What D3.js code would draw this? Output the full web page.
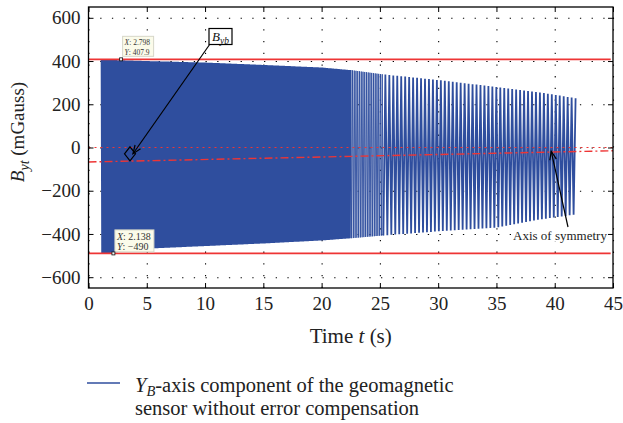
<!DOCTYPE html>
<html>
<head>
<meta charset="utf-8">
<script src="https://cdn.jsdelivr.net/npm/d3@7"></script>
<style>
  body { margin: 0; background: #fff; }
  svg, svg text { font-family: "Liberation Serif", "DejaVu Serif", serif; }
  .grid line { stroke: #000; stroke-width: 1.1; stroke-dasharray: 1.3 10.4; }
  .grid path { display: none; }
  .axis path { display: none; }
  .axis line { stroke: #000; stroke-width: 1; }
  .axis text { font-size: 19px; fill: #222; font-family: "Liberation Serif", serif; }
</style>
</head>
<body>
<svg id="chart" width="623" height="423"></svg>
<script>
// ---------- data ----------
var xTicks = [0, 5, 10, 15, 20, 25, 30, 35, 40, 45];
var yTicks = [-600, -400, -200, 0, 200, 400, 600];

// envelope of the oscillating signal (time s, max / min mGauss)
var envTime  = [1.1,  2,    5,    10,   15,   20,   22.5, 25,   30,   35,   38.7, 41.8];
var envUpper = [405,  405,  400,  393,  382,  370,  358,  340,  312,  280,  255,  228];
var envLower = [-490, -487, -468, -456, -444, -430, -420, -408, -388, -370, -333, -310];

// oscillation period seen in each stretch of the record (s)
var bandFrom   = [1.1, 22.5, 25.3];
var bandTo     = [22.5, 25.3, 41.8];
var bandPeriod = [0.1, 0.15, 0.34];

var limitLevels = [407.9, -490];      // red solid lines
var zeroLevel = 0;                    // red dotted line
var symmetryT = [0, 45];              // red dash-dot axis of symmetry
var symmetryV = [-67, -15];

var tipX = [2.798, 2.138];
var tipY = [407.9, -490];
var byPoint = [3.56, -29];            // diamond marked B_yb
var symPoint = [39.7, -18];           // arrow tip on the axis of symmetry

// ---------- layout ----------
var svg = d3.select("#chart");
var plotL = 88.5, plotR = 613, plotT = 7, plotB = 288;
var blue = "#2f4e9e", red = "#ee3535";
var bandStroke = [1.3, 0.9, 1.8];

var x = d3.scaleLinear().domain([0, 45]).range([plotL, plotR]);
var y = d3.scaleLinear().domain([-650, 650]).range([plotB, plotT]);

// grid
svg.append("g").attr("class", "grid")
    .attr("transform", "translate(0," + plotB + ")")
    .call(d3.axisBottom(x).tickValues(xTicks).tickSize(-(plotB - plotT)).tickFormat(""));
svg.append("g").attr("class", "grid")
    .attr("transform", "translate(" + plotL + ",0)")
    .call(d3.axisLeft(y).tickValues(yTicks).tickSize(-(plotR - plotL)).tickFormat(""));

// signal
svg.append("clipPath").attr("id", "plotClip")
    .append("rect").attr("x", plotL).attr("y", plotT)
    .attr("width", plotR - plotL).attr("height", plotB - plotT);

var upperAt = d3.scaleLinear().domain(envTime).range(envUpper).clamp(true);
var lowerAt = d3.scaleLinear().domain(envTime).range(envLower).clamp(true);

var line = d3.line()
    .x(function (d) { return x(d[0]); })
    .y(function (d) { return y(d[1]); });

var k = 0;
bandFrom.forEach(function (from, i) {
    var half = bandPeriod[i] / 2, pts = [];
    for (var t = from; t <= bandTo[i] + 1e-9; t += half) {
        pts.push([t, k % 2 ? lowerAt(t) : upperAt(t)]);
        k++;
    }
    k--; // next band starts from the last turning point
    svg.append("path")
        .datum(pts)
        .attr("clip-path", "url(#plotClip)")
        .attr("d", line)
        .attr("fill", "none")
        .attr("stroke", blue)
        .attr("stroke-width", bandStroke[i]);
});

// red reference lines
svg.selectAll(".limit")
    .data(limitLevels)
    .enter().append("line")
    .attr("class", "limit")
    .attr("x1", x(0)).attr("x2", x(44.8))
    .attr("y1", function (d) { return y(d); })
    .attr("y2", function (d) { return y(d); })
    .attr("stroke", red).attr("stroke-width", 1.6);

svg.append("line")
    .attr("x1", x(0)).attr("x2", x(45))
    .attr("y1", y(zeroLevel)).attr("y2", y(zeroLevel))
    .attr("stroke", red).attr("stroke-width", 1.2)
    .attr("stroke-dasharray", "2 4");

svg.append("line")
    .attr("x1", x(symmetryT[0])).attr("x2", x(symmetryT[1]))
    .attr("y1", y(symmetryV[0])).attr("y2", y(symmetryV[1]))
    .attr("stroke", red).attr("stroke-width", 1.4)
    .attr("stroke-dasharray", "8 3 2 3");

// axes with inward ticks on all four sides
svg.append("g").attr("class", "axis")
    .attr("transform", "translate(0," + plotB + ")")
    .call(d3.axisBottom(x).tickValues(xTicks).tickSize(-5).tickPadding(9));
svg.append("g").attr("class", "axis")
    .attr("transform", "translate(0," + plotT + ")")
    .call(d3.axisTop(x).tickValues(xTicks).tickSize(-5).tickFormat(""));
svg.append("g").attr("class", "axis")
    .attr("transform", "translate(" + plotL + ",0)")
    .call(d3.axisLeft(y).tickValues(yTicks).tickSize(-5).tickPadding(8));
svg.append("g").attr("class", "axis")
    .attr("transform", "translate(" + plotR + ",0)")
    .call(d3.axisRight(y).tickValues(yTicks).tickSize(-5).tickFormat(""));

svg.append("rect")
    .attr("x", plotL).attr("y", plotT)
    .attr("width", plotR - plotL).attr("height", plotB - plotT)
    .attr("fill", "none").attr("stroke", "#000").attr("stroke-width", 1.3);

// axis titles
var xt = svg.append("text")
    .attr("x", (plotL + plotR) / 2).attr("y", 343)
    .attr("text-anchor", "middle")
    .style("font-size", "21px").attr("fill", "#222");
xt.append("tspan").text("Time ");
xt.append("tspan").style("font-style", "italic").text("t");
xt.append("tspan").text(" (s)");

var yt = svg.append("text")
    .attr("transform", "translate(24,132) rotate(-90)")
    .attr("text-anchor", "middle")
    .style("font-size", "19px").attr("fill", "#222");
yt.append("tspan").style("font-style", "italic").text("B");
yt.append("tspan").style("font-style", "italic").style("font-size", "14px")
    .attr("dy", 5).text("yt");
yt.append("tspan").attr("dy", -5).text(" (mGauss)");

// data tips
var tipBox = [
    { w: 31, h: 20, dx: 1.5, dy: -23, fs: 7.5, lh: 9.3 },
    { w: 39, h: 22, dx: 1.5, dy: -23.5, fs: 10, lh: 10 }
];
tipX.forEach(function (tx, i) {
    var px = x(tx), py = y(tipY[i]), b = tipBox[i];
    var g = svg.append("g");
    g.append("rect")
        .attr("x", px + b.dx).attr("y", py + b.dy)
        .attr("width", b.w).attr("height", b.h)
        .attr("fill", "#fbfbea").attr("stroke", "#d6d6c8").attr("stroke-width", 1);
    var t1 = g.append("text").attr("x", px + b.dx + 2).attr("y", py + b.dy + b.h / 2 - 1)
        .style("font-size", b.fs + "px").attr("fill", "#333");
    t1.append("tspan").style("font-style", "italic").text("X");
    t1.append("tspan").text(": " + tx);
    var t2 = g.append("text").attr("x", px + b.dx + 2).attr("y", py + b.dy + b.h / 2 - 1 + b.lh)
        .style("font-size", b.fs + "px").attr("fill", "#333");
    t2.append("tspan").style("font-style", "italic").text("Y");
    t2.append("tspan").text(": " + String(tipY[i]).replace("-", "\u2212"));
    g.append("rect")
        .attr("x", px - 1.5).attr("y", py - 1.5)
        .attr("width", 3).attr("height", 3)
        .attr("fill", "#f4f4f4").attr("stroke", "#111").attr("stroke-width", 0.8);
});

// arrows
function arrow(x1, y1, x2, y2) {
    var a = Math.atan2(y2 - y1, x2 - x1), L = 9, s = 0.38;
    svg.append("line")
        .attr("x1", x1).attr("y1", y1).attr("x2", x2).attr("y2", y2)
        .attr("stroke", "#000").attr("stroke-width", 1.2);
    svg.append("path")
        .attr("d", "M" + (x2 - L * Math.cos(a - s)) + "," + (y2 - L * Math.sin(a - s)) +
            "L" + x2 + "," + y2 +
            "L" + (x2 - L * Math.cos(a + s)) + "," + (y2 - L * Math.sin(a + s)))
        .attr("fill", "none").attr("stroke", "#000").attr("stroke-width", 1.2);
}

// B_yb label
var bx = x(byPoint[0]), by = y(byPoint[1]);
svg.append("path")
    .attr("d", "M" + (bx - 5.5) + "," + by + "L" + bx + "," + (by - 7) +
        "L" + (bx + 5.5) + "," + by + "L" + bx + "," + (by + 7) + "Z")
    .attr("fill", "none").attr("stroke", "#000").attr("stroke-width", 1.2);
arrow(210, 44, bx + 3, by);
svg.append("rect")
    .attr("x", 209).attr("y", 28.5).attr("width", 23).attr("height", 16)
    .attr("fill", "#fff").attr("stroke", "#000").attr("stroke-width", 1.2);
var bl = svg.append("text").attr("x", 212).attr("y", 40.5)
    .style("font-size", "13px").style("font-style", "italic").attr("fill", "#111");
bl.append("tspan").text("B");
bl.append("tspan").attr("dy", 3).style("font-size", "9.5px").text("yb");

// axis of symmetry label
svg.append("rect")
    .attr("x", 512).attr("y", 227).attr("width", 95).attr("height", 14)
    .attr("fill", "#fff");
arrow(568, 227, x(symPoint[0]), y(symPoint[1]));
svg.append("text")
    .attr("x", 513).attr("y", 239.5)
    .style("font-size", "13px").attr("fill", "#222")
    .text("Axis of symmetry");

// legend
svg.append("line")
    .attr("x1", 87).attr("x2", 120).attr("y1", 383).attr("y2", 383)
    .attr("stroke", blue).attr("stroke-width", 1.3);
var lg = svg.append("text").attr("x", 135).attr("y", 391.5)
    .style("font-size", "20.5px").attr("fill", "#222");
lg.append("tspan").style("font-style", "italic").text("Y");
lg.append("tspan").style("font-style", "italic").style("font-size", "14.5px")
    .attr("dy", 4).text("B");
lg.append("tspan").attr("dy", -4).text("-axis component of the geomagnetic");
svg.append("text").attr("x", 135).attr("y", 415)
    .style("font-size", "20.5px").attr("fill", "#222")
    .text("sensor without error compensation");
</script>
</body>
</html>
